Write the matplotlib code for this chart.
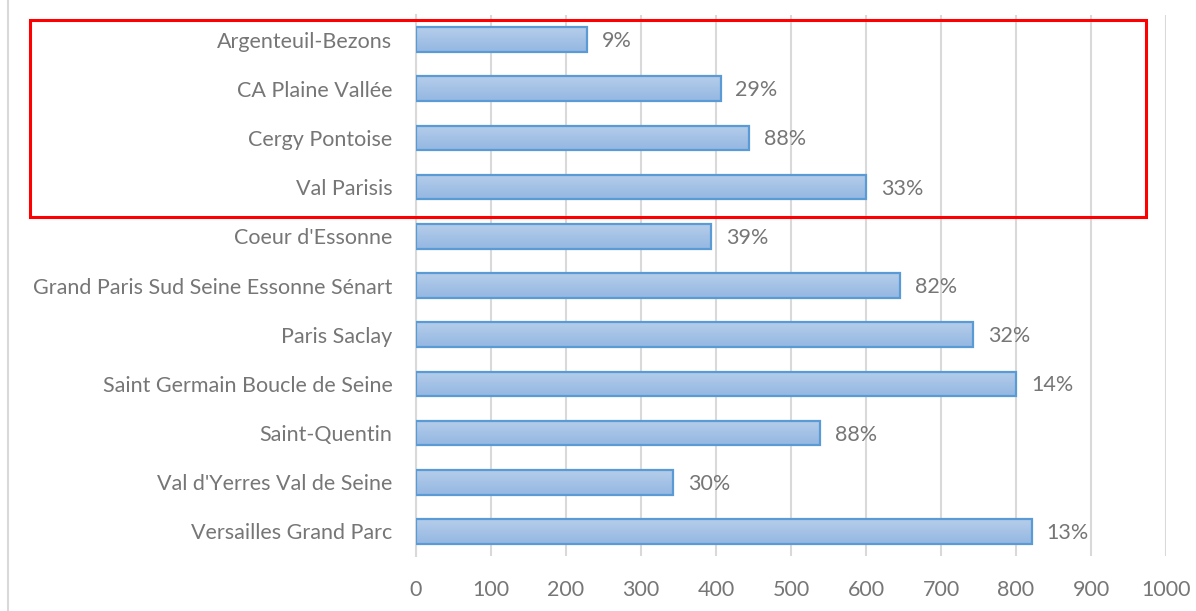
import matplotlib
matplotlib.use("Agg")
import matplotlib.pyplot as plt
import numpy as np
from matplotlib.patches import Rectangle
from matplotlib.lines import Line2D
from matplotlib.colors import LinearSegmentedColormap

categories = ["Argenteuil-Bezons", "CA Plaine Vallée", "Cergy Pontoise", "Val Parisis",
              "Coeur d'Essonne", "Grand Paris Sud Seine Essonne Sénart", "Paris Saclay",
              "Saint Germain Boucle de Seine", "Saint-Quentin", "Val d'Yerres Val de Seine",
              "Versailles Grand Parc"]
values = [228, 406, 444, 600, 393, 645, 743, 800, 539, 343, 821]
pct_labels = ["9%", "29%", "88%", "33%", "39%", "82%", "32%", "14%", "88%", "30%", "13%"]
x_ticks = [0, 100, 200, 300, 400, 500, 600, 700, 800, 900, 1000]

plt.rcParams['font.family'] = ['Lato', 'DejaVu Sans']
txt_color = "#767676"
grid_color = "#d9d9d9"
fs = 15.5

fig = plt.figure(figsize=(11.96, 6.11), dpi=100)
ax = fig.add_axes([416/1196, 1-556/611, 750/1196, 541/611])

y = np.arange(len(categories))
bar_h = 0.5
grad = np.linspace(0, 1, 64).reshape(-1, 1)
cmap = LinearSegmentedColormap.from_list("g", ["#b5cdea", "#94b7e2"])
bars = ax.barh(y, values, height=bar_h, color="none", edgecolor="#5b9bd5", linewidth=1.6, zorder=3)
for b in bars:
    x0, y0 = b.get_x(), b.get_y()
    w, h = b.get_width(), b.get_height()
    ax.imshow(grad, cmap=cmap, aspect="auto", extent=[x0, x0 + w, y0 + h, y0],
              origin="upper", zorder=2, interpolation="bilinear")
for yi, v, lab in zip(y, values, pct_labels):
    ax.text(v + 20, yi + 0.03, lab, va="center", ha="left", fontsize=fs, color=txt_color)

ax.set_xlim(0, 1000)
ax.set_ylim(len(categories) - 0.5, -0.5)
ax.set_xticks(x_ticks)
ax.set_yticks(y)
ax.set_yticklabels(categories)
ax.tick_params(axis="both", length=0, labelsize=fs, labelcolor=txt_color)
ax.tick_params(axis="x", pad=17)
ax.tick_params(axis="y", pad=17)
ax.grid(axis="x", color=grid_color, linewidth=1.5, zorder=0)
ax.set_axisbelow(True)
for s in ["top", "right", "bottom"]:
    ax.spines[s].set_visible(False)
ax.spines["left"].set_color(grid_color)
ax.spines["left"].set_linewidth(1.5)

# chart border (left edge visible)
fig.add_artist(Line2D([8/1196, 8/1196], [0, 1], color=grid_color, linewidth=1.5,
                      transform=fig.transFigure))
# red highlight box
fig.add_artist(Rectangle((30/1196, 1-217/611), (1146-30)/1196, (217-20)/611,
                         fill=False, edgecolor="#ff0000", linewidth=2.2,
                         transform=fig.transFigure, zorder=10))

fig.savefig("out.png", dpi=100)
